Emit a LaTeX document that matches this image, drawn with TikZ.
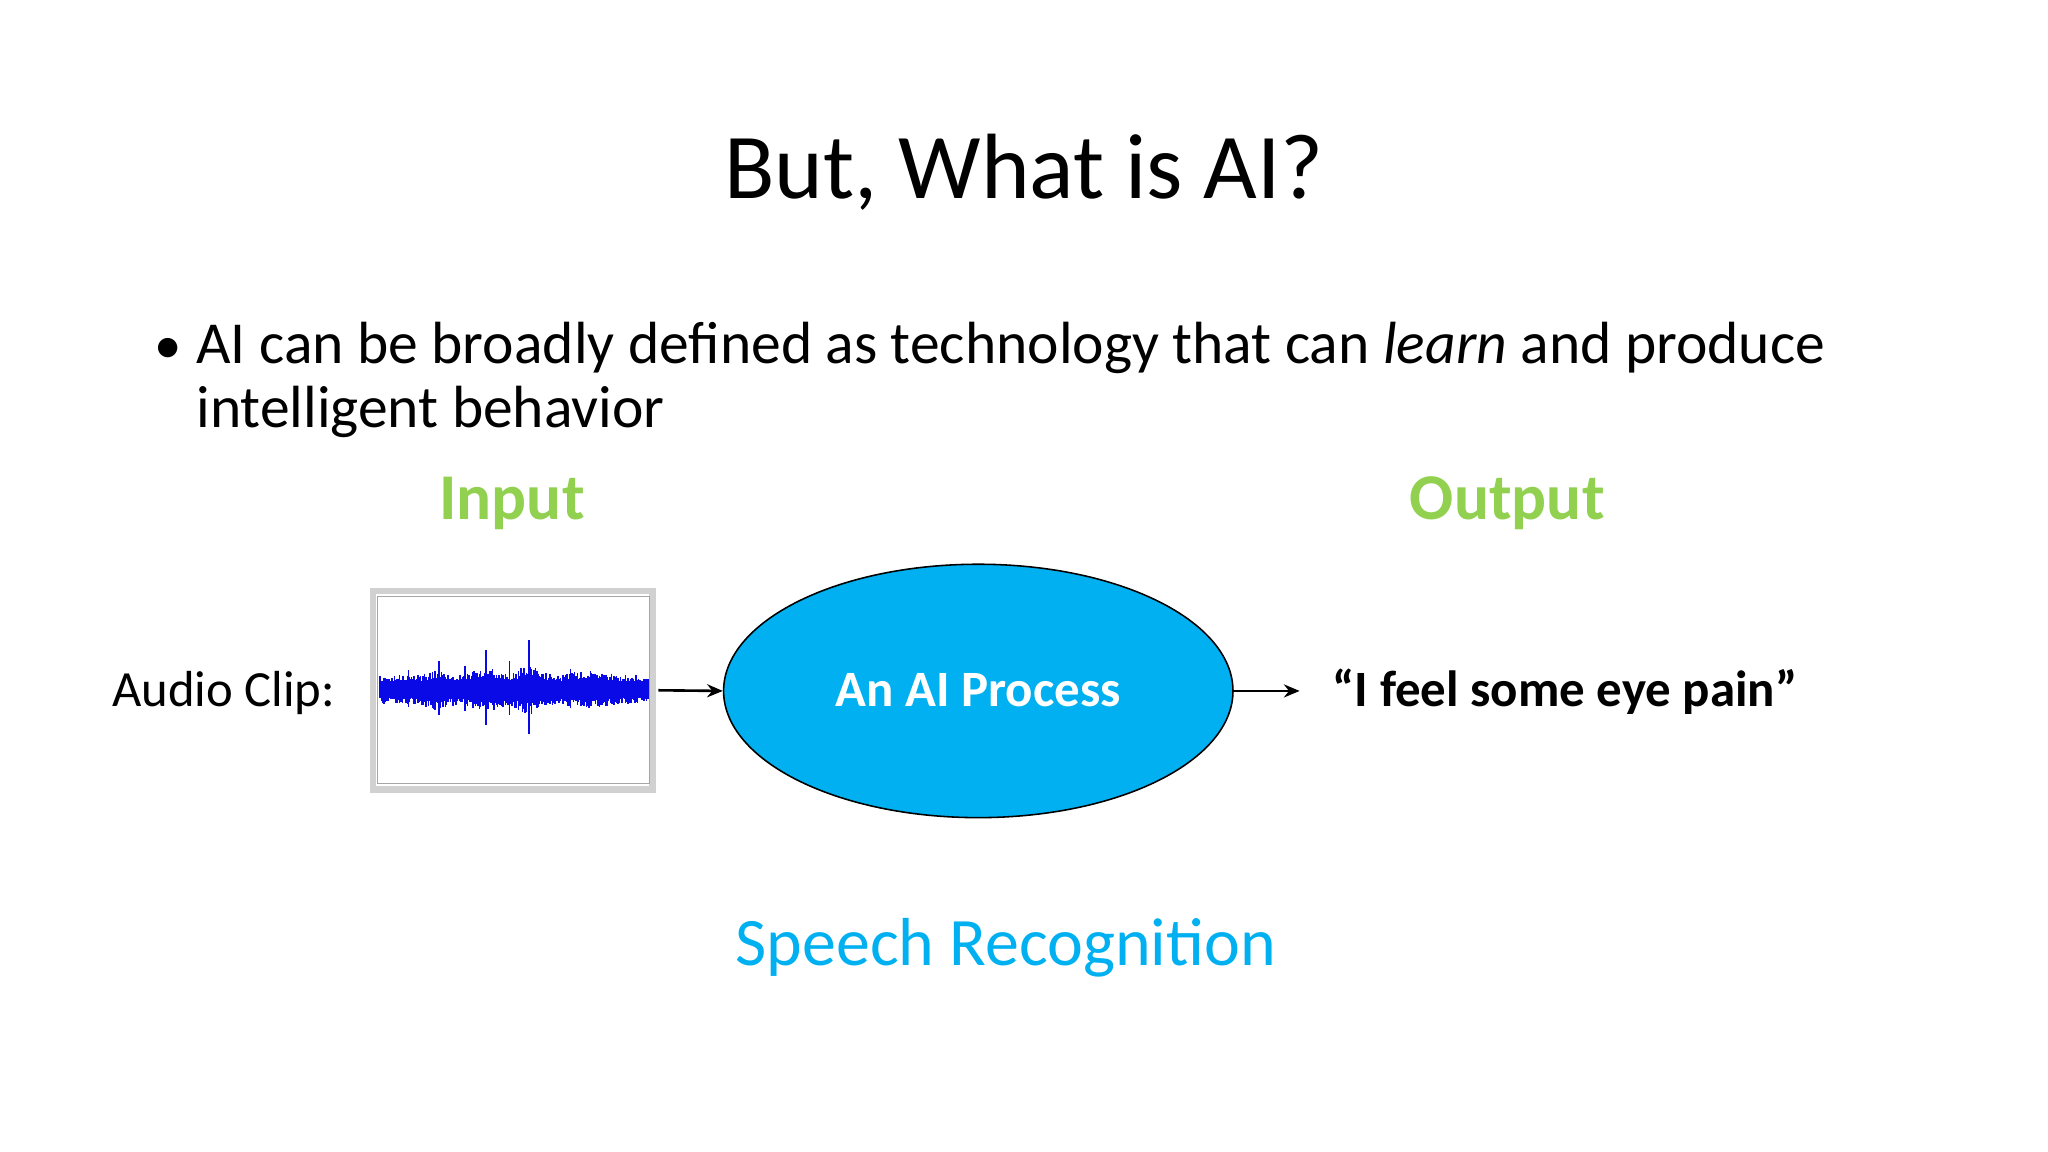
\documentclass[tikz,border=0pt]{standalone}
\usepackage{fontspec}
\setmainfont{Carlito}
\usetikzlibrary{shapes.geometric,arrows.meta}
\definecolor{grn}{RGB}{146,208,80}
\definecolor{cyanb}{RGB}{0,176,240}
\definecolor{wave}{RGB}{10,10,230}
\begin{document}
\begin{tikzpicture}[x=0.5pt,y=-0.5pt,
  lbl/.style={inner sep=0pt,anchor=base},
  arr/.style={-{Stealth[length=6pt,width=5pt]},line width=1pt}]
\useasboundingbox (0,0) rectangle (1568,882);
\node[lbl] (title) at (784,152) {\fontsize{35.5}{42}\selectfont But, What is AI?};
\node[lbl,anchor=base west] (bul) at (118,278) {\fontsize{21}{25}\selectfont •};
\node[lbl,anchor=base west] (l1) at (150,278) {\fontsize{22.8}{27}\selectfont AI can be broadly defined as technology that can \textit{learn} and produce};
\node[lbl,anchor=base west] (l2) at (150,327) {\fontsize{22.8}{27}\selectfont intelligent behavior};
\node[lbl,text=grn] (in) at (392,398) {\fontsize{25}{30}\selectfont\bfseries Input};
\node[lbl,text=grn] (out) at (1154,398) {\fontsize{25}{30}\selectfont\bfseries Output};
\node[lbl,anchor=base east] (audio) at (257,541) {\fontsize{19.4}{23}\selectfont Audio Clip:};
% image
\node[draw=black!18,line width=2.5pt,fill=white,minimum width=214pt/2,minimum height=152pt/2,inner sep=0pt] (img) at (392.5,528.5) {};
\draw[black!35,line width=0.4pt] (289,457) rectangle (497,600);
\pgfmathsetseed{7}
\foreach \i in {0,...,205}{
  \pgfmathsetmacro{\xx}{291+\i}
  \pgfmathsetmacro{\env}{11+8*exp(-((\xx-405)/10)^2)+6*exp(-((\xx-372)/14)^2)+5*exp(-((\xx-335)/10)^2)+3*exp(-((\xx-450)/20)^2)}
  \pgfmathsetmacro{\aa}{\env*(0.55+0.45*rnd)}
  \pgfmathsetmacro{\bb}{\env*(0.55+0.45*rnd)}
  \draw[wave,line width=0.6pt] (\xx,528-\aa) -- (\xx,528+\bb);
}
\foreach \xx/\h in {405/38,372/30,336/22,313/15,452/14,437/16,468/12,356/18,390/22}{
  \draw[wave,line width=0.5pt] (\xx,528-\h) -- (\xx,528+\h*0.9);
}
\node[ellipse,draw=black,line width=0.6pt,fill=cyanb,minimum width=390pt/2,minimum height=194pt/2,inner sep=0pt] (ai) at (749,529) {};
\node[lbl,text=white] (ait) at (749,541) {\fontsize{19.5}{23}\selectfont\bfseries An AI Process};
\draw[arr] (img.east) ++(2,0) coordinate (s1) -- (ai.west);
\node[lbl,anchor=base west] (q) at (1020,541) {\fontsize{19.5}{23}\selectfont\bfseries “I feel some eye pain”};
\coordinate (e2) at (995,529);
\draw[arr] (ai.east) -- (e2);
\node[lbl,text=cyanb] (sr) at (770,739) {\fontsize{26}{31}\selectfont Speech Recognition};
\end{tikzpicture}
\end{document}
